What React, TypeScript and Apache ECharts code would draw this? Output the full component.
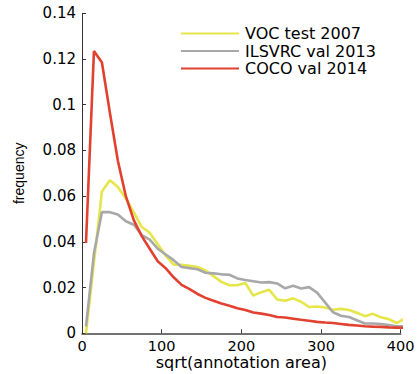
import React, { useEffect, useRef } from "react";
import * as echarts from "echarts";

const binCenters = [
  5, 15, 25, 35, 45, 55, 65, 75, 85, 95, 105, 115, 125, 135, 145, 155, 165, 175, 185, 195,
  205, 215, 225, 235, 245, 255, 265, 275, 285, 295, 305, 315, 325, 335, 345, 355, 365, 375, 385, 395, 405,
];

const vocTest2007 = [
  0.0, 0.031, 0.062, 0.067, 0.064, 0.059, 0.053, 0.0465, 0.044, 0.039, 0.034, 0.03, 0.03, 0.0295,
  0.029, 0.0275, 0.025, 0.0225, 0.021, 0.021, 0.022, 0.0165, 0.018, 0.019, 0.0148, 0.0142, 0.0153,
  0.0138, 0.0115, 0.0117, 0.0113, 0.0103, 0.0107, 0.0102, 0.009, 0.0075, 0.0085, 0.007, 0.0062,
  0.0045, 0.0065,
];

const ilsvrcVal2013 = [
  0.003, 0.035, 0.053, 0.053, 0.052, 0.049, 0.0475, 0.043, 0.041, 0.037, 0.0345, 0.032, 0.029,
  0.0285, 0.028, 0.0265, 0.0262, 0.0258, 0.0256, 0.024, 0.0233, 0.0228, 0.0222, 0.0224, 0.0218,
  0.0197, 0.0208, 0.0196, 0.0202, 0.0178, 0.0135, 0.0092, 0.0077, 0.0071, 0.0057, 0.0043, 0.0043,
  0.0041, 0.0036, 0.0031, 0.003,
];

const cocoVal2014 = [
  0.0395, 0.1235, 0.1185, 0.0965, 0.0755, 0.06, 0.0495, 0.0425, 0.037, 0.0315, 0.0285, 0.0245,
  0.0212, 0.0193, 0.0172, 0.0155, 0.0142, 0.013, 0.0121, 0.011, 0.0102, 0.0091, 0.0086, 0.008,
  0.0071, 0.0069, 0.0064, 0.0059, 0.0055, 0.005, 0.0047, 0.0045, 0.0041, 0.0037, 0.0034, 0.0031,
  0.0029, 0.0028, 0.0026, 0.0025, 0.0024,
];

const seriesNames = ["VOC test 2007", "ILSVRC val 2013", "COCO val 2014"];
const seriesColors = ["#e6e64a", "#a8a8a8", "#e2412f"];
const yTickLabels = ["0", "0.02", "0.04", "0.06", "0.08", "0.1", "0.12", "0.14"];
const xTickLabels = ["0", "100", "200", "300", "400"];

export default function App() {
  const ref = useRef<HTMLDivElement>(null);

  useEffect(() => {
    if (!ref.current) return;
    const chart = echarts.init(ref.current, null, { renderer: "svg" });
    const allData = [vocTest2007, ilsvrcVal2013, cocoVal2014];
    const tickFont = "DejaVu Sans";
    chart.setOption({
      animation: false,
      backgroundColor: "#ffffff",
      grid: {
        left: 82,
        right: 17.3,
        top: 13.3,
        bottom: 40.7,
        containLabel: false,
        outerBoundsMode: "none",
      },
      legend: {
        orient: "vertical",
        left: 176,
        top: 20,
        itemWidth: 58,
        itemHeight: 17,
        itemGap: 0.5,
        icon: "path://M0,0 L58,0 L58,2 L0,2 Z",
        data: seriesNames.map((n, i) => ({
          name: n,
          itemStyle: { color: seriesColors[i] },
        })),
        textStyle: {
          fontFamily: tickFont,
          fontSize: 16,
          lineHeight: 17,
          color: "#000",
          padding: [0, 0, 0, 1],
        },
      },
      xAxis: {
        type: "value",
        min: 0,
        max: 400,
        interval: 100,
        name: "sqrt(annotation area)",
        nameLocation: "middle",
        nameGap: 21.5,
        nameMoveOverlap: false,
        nameTextStyle: { fontFamily: tickFont, fontSize: 16, lineHeight: 16, color: "#000" },
        axisLine: { show: true, lineStyle: { color: "#444", width: 1.5 } },
        axisTick: { show: true, inside: true, length: 4, lineStyle: { color: "#333" } },
        axisLabel: {
          fontFamily: tickFont,
          fontSize: 14.5,
          lineHeight: 15,
          color: "#000",
          margin: 5,
          formatter: (v: number) => {
            const idx = Math.round(v / 100);
            return xTickLabels[idx] ?? String(v);
          },
        },
        splitLine: { show: false },
      },
      yAxis: {
        type: "value",
        min: 0,
        max: 0.14,
        interval: 0.02,
        name: "frequency",
        nameLocation: "middle",
        nameGap: 56,
        nameRotate: 90,
        nameMoveOverlap: false,
        nameTextStyle: { fontFamily: "Liberation Sans", fontSize: 14, color: "#000" },
        axisLine: { show: true, lineStyle: { color: "#333", width: 1 } },
        axisTick: { show: true, inside: true, length: 4, lineStyle: { color: "#333" } },
        axisLabel: {
          fontFamily: tickFont,
          fontSize: 15,
          color: "#000",
          margin: 6,
          formatter: (v: number) => {
            const idx = Math.round(v / 0.02);
            return yTickLabels[idx] ?? String(v);
          },
        },
        splitLine: { show: false },
      },
      series: seriesNames.map((name, i) => ({
        name,
        type: "line",
        symbol: "none",
        clip: true,
        data: binCenters.map((x, j) => [x, allData[i][j]]),
        lineStyle: { color: seriesColors[i], width: 2.6 },
        itemStyle: { color: seriesColors[i] },
        z: 2 + (i === 2 ? 1 : 0),
      })),
    });
    return () => chart.dispose();
  }, []);

  return (
    <div
      ref={ref}
      style={{ position: "fixed", left: 0, top: 0, width: 418, height: 374, background: "#fff" }}
    />
  );
}
